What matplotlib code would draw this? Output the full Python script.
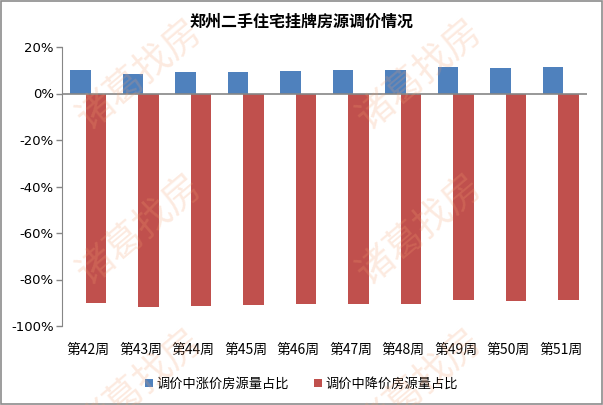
import matplotlib
matplotlib.use("Agg")
import matplotlib.pyplot as plt
import numpy as np
from matplotlib.patches import Rectangle

plt.rcParams['font.family'] = ['Noto Sans CJK SC', 'DejaVu Sans']

# data (percent)
weeks = ['第42周', '第43周', '第44周', '第45周', '第46周',
         '第47周', '第48周', '第49周', '第50周', '第51周']
rise = [10.0, 8.3, 9.2, 9.2, 9.6, 10.0, 10.0, 11.3, 10.9, 11.3]
fall = [-90.1, -91.8, -91.4, -91.0, -90.5, -90.5, -90.5, -88.8, -89.2, -88.8]
title = '郑州二手住宅挂牌房源调价情况'
series_names = ['调价中涨价房源量占比', '调价中降价房源量占比']

blue = '#4F81BD'
red = '#C0504D'
grey = '#868686'

fig = plt.figure(figsize=(6.03, 4.05), dpi=100)
ax = fig.add_axes([62/603, 1-326/405, 525/603, 279/405])

x = np.arange(len(weeks))
w = 0.39
b1 = ax.bar(x - 0.152, rise, w, color=blue, label=series_names[0], zorder=2)
b2 = ax.bar(x + 0.152, fall, w, color=red, label=series_names[1], zorder=2)

ax.set_xlim(-0.5, len(weeks) - 0.5)
ax.set_ylim(-100, 20)
ax.set_yticks(np.arange(-100, 21, 20))
ax.set_yticklabels(['%d%%' % v for v in np.arange(-100, 21, 20)], fontsize=9.5,
                   family='DejaVu Sans')
ax.set_xticks(x)
ax.set_xticklabels(weeks, fontsize=10)
ax.tick_params(axis='x', length=0, pad=12)
ax.tick_params(axis='y', length=4, color=grey, width=1, pad=2)

for s in ['top', 'right', 'bottom']:
    ax.spines[s].set_visible(False)
ax.spines['left'].set_color(grey)
ax.axhline(0, color=grey, lw=1.2, zorder=3)

fig.text(0.5, 1 - 22/405, title, ha='center', va='center', fontsize=11.5,
         fontweight='bold')

fig.legend(handles=[b1, b2], loc='center', bbox_to_anchor=(0.5, 1 - 384/405),
           ncol=2, frameon=False, fontsize=9.5, handlelength=0.6,
           handleheight=0.6, handletextpad=0.3, columnspacing=1.9)

# watermark
for wx in [140, 420]:
    for wy in [75, 230, 385]:
        fig.text(wx/603, 1 - wy/405, '诸葛找房', ha='center', va='center',
                 rotation=40, fontsize=27, color='#F5A070', alpha=0.22,
                 zorder=10)

# outer frame
fig.patches.append(Rectangle((0.001, 0.002), 0.997, 0.996, transform=fig.transFigure,
                             fill=False, edgecolor='#8c8c8c', lw=1.2))

fig.savefig('out.png', dpi=100)
